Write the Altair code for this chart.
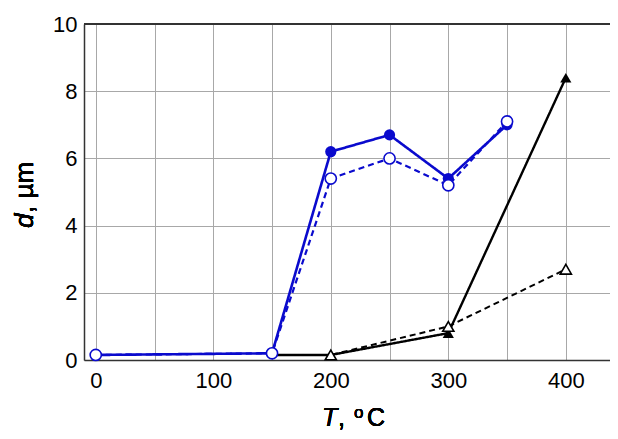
import altair as alt
import pandas as pd

# data
T_blue = [0, 150, 200, 250, 300, 350]
d_blue_filled = [0.15, 0.2, 6.2, 6.7, 5.4, 7.0]
d_blue_open = [0.15, 0.2, 5.4, 6.0, 5.2, 7.1]

T_black = [150, 200, 300, 400]
d_black_filled = [0.15, 0.15, 0.8, 8.4]
d_black_open = [0.15, 0.15, 1.0, 2.7]

x_grid = [0, 50, 100, 150, 200, 250, 300, 350, 400]
y_grid = [0, 1, 2, 3, 4, 5, 6, 7, 8, 9, 10]

BLUE = "#0a0acd"
FONT = "Liberation Sans"
W = 526
H = 336

df_bf = pd.DataFrame({"T": T_blue, "d": d_blue_filled})
df_bo = pd.DataFrame({"T": T_blue, "d": d_blue_open})
df_kf = pd.DataFrame({"T": T_black, "d": d_black_filled})
df_ko = pd.DataFrame({"T": T_black, "d": d_black_open})

xs = alt.Scale(domain=[-10, 437.6], nice=False, zero=False)
ys = alt.Scale(domain=[0, 10], nice=False)

xax = alt.Axis(values=x_grid, grid=True, gridColor="#a8a8a8", gridWidth=1,
               labelExpr="datum.value % 100 == 0 ? datum.label : ''",
               labelFontSize=22, labelFont=FONT, labelColor="black",
               labelPadding=10, ticks=False, domainColor="#333333", domainWidth=1.5,
               title=None, labelFlush=False)
yax = alt.Axis(values=y_grid, grid=True, gridColor="#a8a8a8", gridWidth=1,
               labelExpr="datum.value % 2 == 0 ? datum.label : ''",
               labelFontSize=22, labelFont=FONT, labelColor="black",
               labelPadding=7, ticks=False, domainColor="#333333", domainWidth=1.5,
               title=None, labelFlush=False)

base_axes = alt.Chart(df_bf).mark_point(opacity=0).encode(
    x=alt.X("T:Q", scale=xs, axis=xax),
    y=alt.Y("d:Q", scale=ys, axis=yax),
)

top = alt.Chart(df_bf).mark_rule(color="#333333", strokeWidth=1.5).encode(
    y=alt.datum(10, scale=ys), x=alt.value(0), x2=alt.value(W))


def series(df, color, dash, filled, shape, width, tmin):
    enc = dict(x=alt.X("T:Q", scale=xs), y=alt.Y("d:Q", scale=ys))
    line = alt.Chart(df).mark_line(color=color, strokeWidth=width,
                                   strokeDash=dash).encode(**enc)
    if filled:
        pts = alt.Chart(df).mark_point(shape=shape, filled=True, color=color,
                                       opacity=1, size=125).encode(**enc)
    else:
        pts = alt.Chart(df).mark_point(shape=shape, filled=False, fill="white",
                                       fillOpacity=1, stroke=color, strokeWidth=1.6,
                                       opacity=1, size=125).encode(**enc)
    pts = pts.transform_filter(alt.datum.T >= tmin)
    return line + pts


l_kf = series(df_kf, "black", [1, 0], True, "triangle-up", 2.4, 200)
l_ko = series(df_ko, "black", [6, 4], False, "triangle-up", 2, 200)
l_bf = series(df_bf, BLUE, [1, 0], True, "circle", 2.6, 0)
l_bo = series(df_bo, BLUE, [6, 4], False, "circle", 2.2, 0)


def txt(s, x, y, size=25, italic=False, angle=0):
    return alt.Chart(df_bf).mark_text(
        text=s, font=FONT, fontSize=size, fontStyle="italic" if italic else "normal",
        color="black", align="left", baseline="alphabetic", angle=angle
    ).encode(x=alt.value(x), y=alt.value(y))


titles = (
    txt("T", 238, 402, italic=True)
    + txt(",", 254, 402)
    + txt("o", 270, 394, size=17)
    + txt("C", 283, 402)
    + txt("d", -51, 204, size=26, italic=True, angle=270)
    + txt(", µm", -51, 189, size=26, angle=270)
)

chart = alt.layer(base_axes, top, l_kf, l_ko, l_bf, l_bo, titles).properties(
    width=W, height=H,
    autosize=alt.AutoSizeParams(type="none"),
    padding={"left": 76, "top": 16, "right": 0, "bottom": 71},
).configure_view(stroke=None).configure(background="white")

chart.save("out.html", embed_options={"renderer": "svg", "actions": False})
